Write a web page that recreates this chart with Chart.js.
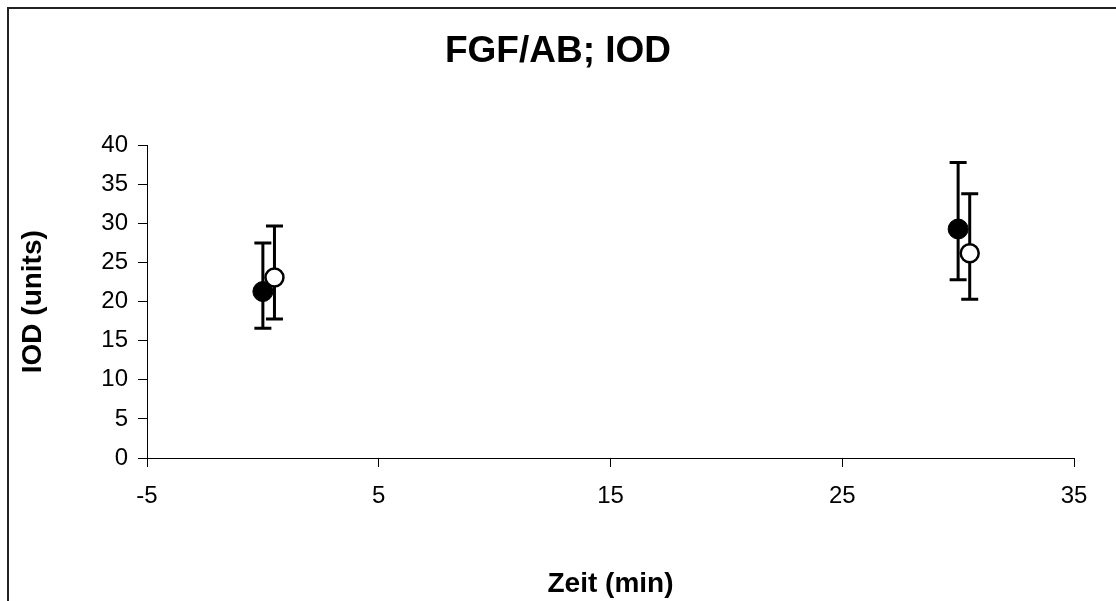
<!DOCTYPE html>
<html>
<head>
<meta charset="utf-8">
<script src="https://cdn.jsdelivr.net/npm/chart.js@4.4.1/dist/chart.umd.min.js"></script>
<style>
  html, body { margin: 0; padding: 0; background: #fff; }
  #wrap { width: 1116px; height: 601px; position: relative; }
</style>
</head>
<body>
<div id="wrap"><canvas id="c"></canvas></div>
<script>
// time points (min) for the two groups, the open one is shifted a bit
const timeFilled = [0, 30];
const timeOpen = [0.5, 30.5];

const iodFilled = [21.3, 29.3];
const lowFilled = [16.6, 22.8];
const highFilled = [27.5, 37.8];

const iodOpen = [23.1, 26.2];
const lowOpen = [17.8, 20.3];
const highOpen = [29.7, 33.8];

const FONT = "'Liberation Sans', Arial, sans-serif";

function toPoints(xs, ys, lo, hi) {
    return xs.map((x, i) => ({ x: x, y: ys[i], lo: lo[i], hi: hi[i] }));
}

// draws vertical error bars with caps, under the markers
const errorBars = {
    id: 'errorBars',
    beforeDatasetsDraw(chart) {
        const ctx = chart.ctx;
        const xs = chart.scales.x;
        const ys = chart.scales.y;
        ctx.save();
        ctx.strokeStyle = '#000';
        ctx.lineWidth = 3;
        chart.data.datasets.forEach(ds => {
            ds.data.forEach(p => {
                const px = xs.getPixelForValue(p.x);
                const top = ys.getPixelForValue(p.hi);
                const bot = ys.getPixelForValue(p.lo);
                ctx.beginPath();
                ctx.moveTo(px, top);
                ctx.lineTo(px, bot);
                ctx.moveTo(px - 8.5, top);
                ctx.lineTo(px + 8.5, top);
                ctx.moveTo(px - 8.5, bot);
                ctx.lineTo(px + 8.5, bot);
                ctx.stroke();
            });
        });
        ctx.restore();
    }
};

// outer frame of the original sheet (only left and top edges visible)
const frame = {
    id: 'frame',
    beforeDraw(chart) {
        const ctx = chart.ctx;
        ctx.save();
        ctx.fillStyle = '#fff';
        ctx.fillRect(0, 0, chart.width, chart.height);
        ctx.strokeStyle = '#222';
        ctx.lineWidth = 2;
        ctx.beginPath();
        ctx.moveTo(8, chart.height + 2);
        ctx.lineTo(8, 8);
        ctx.lineTo(chart.width + 2, 8);
        ctx.stroke();
        ctx.restore();
    }
};

const ctx = document.getElementById('c').getContext('2d');
new Chart(ctx, {
    type: 'scatter',
    data: {
        datasets: [
            {
                label: 'filled',
                data: toPoints(timeFilled, iodFilled, lowFilled, highFilled),
                pointRadius: 10,
                pointHoverRadius: 10,
                backgroundColor: '#000',
                borderColor: '#000',
                borderWidth: 1
            },
            {
                label: 'open',
                data: toPoints(timeOpen, iodOpen, lowOpen, highOpen),
                pointRadius: 9,
                pointHoverRadius: 9,
                backgroundColor: '#fff',
                borderColor: '#000',
                borderWidth: 2.5
            }
        ]
    },
    options: {
        responsive: true,
        maintainAspectRatio: false,
        animation: false,
        layout: { padding: { left: 0, right: 0, top: 0, bottom: 0 } },
        plugins: {
            legend: { display: false },
            tooltip: { enabled: false },
            title: {
                display: true,
                text: 'FGF/AB; IOD',
                color: '#000',
                font: { family: FONT, size: 37, weight: 'bold' },
                padding: { top: 30, bottom: 71 }
            }
        },
        scales: {
            x: {
                type: 'linear',
                min: -5,
                max: 35,
                afterFit(scale) { scale.height = 143; },
                ticks: {
                    stepSize: 10,
                    color: '#000',
                    padding: 15,
                    font: { family: FONT, size: 24 }
                },
                grid: {
                    drawOnChartArea: false,
                    drawTicks: true,
                    tickLength: 9,
                    color: '#000'
                },
                border: { display: true, color: '#000', width: 1 },
                title: {
                    display: true,
                    text: 'Zeit (min)',
                    color: '#000',
                    font: { family: FONT, size: 28, weight: 'bold' },
                    padding: { top: 0, bottom: 0 }
                }
            },
            y: {
                min: 0,
                max: 40,
                afterFit(scale) { scale.width = 147; },
                ticks: {
                    stepSize: 5,
                    color: '#000',
                    padding: 10,
                    font: { family: FONT, size: 24 }
                },
                grid: {
                    drawOnChartArea: false,
                    drawTicks: true,
                    tickLength: 9,
                    color: '#000'
                },
                border: { display: true, color: '#000', width: 1 },
                title: {
                    display: true,
                    text: 'IOD (units)',
                    color: '#000',
                    font: { family: FONT, size: 28, weight: 'bold' },
                    padding: { top: 16, bottom: 0 }
                }
            },
            yRight: {
                position: 'right',
                display: true,
                afterFit(scale) { scale.width = 42; },
                ticks: { display: false },
                grid: { display: false, drawTicks: false },
                border: { display: false }
            }
        }
    },
    plugins: [frame, errorBars]
});
</script>
</body>
</html>
